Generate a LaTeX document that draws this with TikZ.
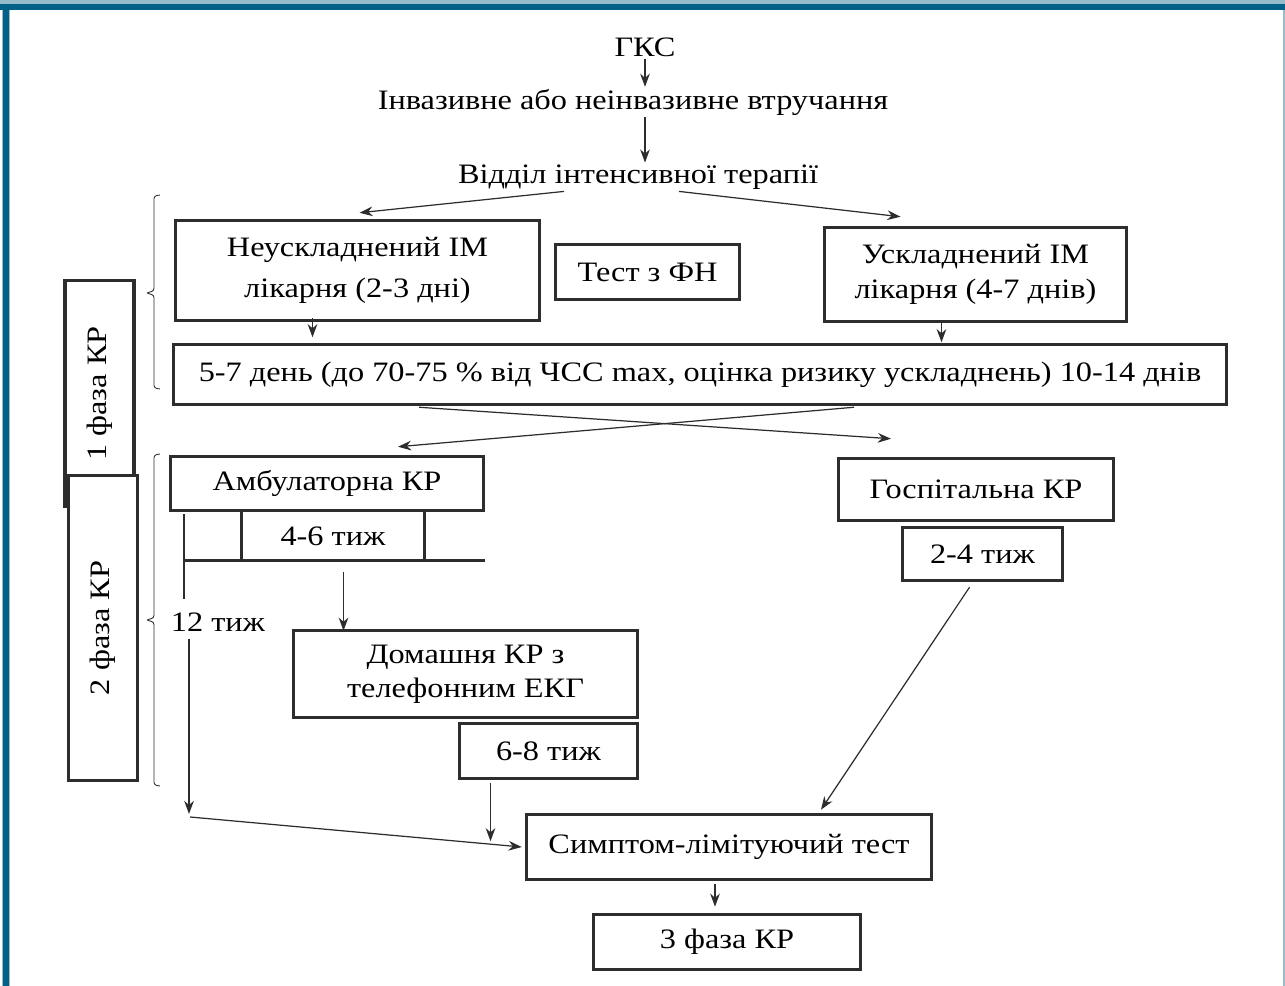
\documentclass[tikz,border=0pt]{standalone}
\usepackage{fontspec}
\setmainfont{Liberation Serif}[FakeStretch=1.15]
\usepackage{tikz}
\usetikzlibrary{arrows.meta,calc}
\definecolor{RamkaTeal}{RGB}{0,96,135}
\definecolor{RamkaSvit}{RGB}{150,188,202}
\definecolor{LiniyaSira}{RGB}{45,45,45}

\begin{document}
\begin{tikzpicture}[x=0.02cm,y=-0.02cm,>={Stealth[length=7.5pt,width=5.5pt]},
  font=\fontsize{16}{19.5}\selectfont,
  sz/.style 2 args={minimum width=#1*0.2mm,minimum height=#2*0.2mm},
  box/.style={draw=LiniyaSira,line width=2pt,fill=white,align=center,inner sep=2pt},
  txt/.style={inner sep=1pt,align=center},
  arr/.style={->,LiniyaSira,line width=0.7pt},
  duzhka/.style={LiniyaSira,line width=0.5pt,rounded corners=1.5pt}]

  \useasboundingbox (0,0) rectangle (1285,986);
  % рамка
  \fill[RamkaSvit] (0,0) rectangle (1285,4);
  \fill[RamkaTeal] (0,4) rectangle (1285,10);
  \fill[RamkaSvit] (2,10) rectangle (10,986);
  \fill[RamkaTeal] (3,4) rectangle (9,986);
  \fill[RamkaSvit] (1283,10) rectangle (1285,986);

  % верх
  \node[txt] (gks) at (645,47) {ГКС};
  \node[txt] (invaz) at (633,102) {Інвазивне або неінвазивне втручання};
  \node[txt] (vidd) at (638,177) {Відділ інтенсивної терапії};
  \draw[arr] (gks.south) -- (gks.south |- invaz.north);
  \draw[arr] (invaz.south -| gks.south) -- (vidd.north -| gks.south);

  % 1 фаза
  \node[box,sz={364}{100},font=\fontsize{16}{23}\selectfont] (neuskl) at (357.5,270.5)
    {Неускладнений ІМ\\лікарня (2-3 дні)};
  \node[box,sz={184}{55}] (test) at (647.5,272) {Тест з ФН};
  \node[box,sz={302}{94}] (uskl) at (975.5,274.5) {Ускладнений ІМ\\лікарня (4-7 днів)};
  \node[box,sz={1053}{60}] (day) at (700,374.5)
    {5-7 день (до 70-75 \% від ЧСС max, оцінка ризику ускладнень) 10-14 днів};
  \draw[arr] ($(vidd.south)+(-74,0)$) -- ($(neuskl.north)+(2,-6)$);
  \draw[arr] ($(vidd.south)+(41,0)$) -- ($(uskl.north)+(-75,-9)$);
  \draw[arr] ($(neuskl.south)+(-45,-4)$) -- ($(neuskl.south)+(-45,15)$);
  \draw[arr] ($(uskl.south)+(-34,0)$) -- ($(uskl.south)+(-34,19)$);

  % фази зліва
  \node[box,rotate=90,sz={226}{69}] (faza1) at (99.5,393.5) {1 фаза КР};
  \node[box,rotate=90,sz={305}{69}] (faza2) at (103,628) {2 фаза КР};
  \draw[duzhka] (160,195) -- (154,196) -- (154,291) -- (146,293) -- (154,295) -- (154,388) -- (160,389);
  \draw[duzhka] (160,454) -- (154,455) -- (154,618) -- (146,620) -- (154,622) -- (154,785) -- (160,786);

  % 2 фаза
  \node[box,sz={313}{54}] (ambul) at (327,483.5) {Амбулаторна КР};
  \node[box,sz={275}{62}] (hosp) at (976,489.5) {Госпітальна КР};
  \draw[arr] ($(day.south)+(-281,1)$) -- ($(hosp.north)+(-85,-18)$);
  \draw[arr] ($(day.south)+(154,1)$) -- ($(ambul.north)+(71,-8)$);

  \node[txt,sz={182}{48}] (t46) at (333,536) {4-6 тиж};
  \coordinate (l12) at (184,514);
  \draw[LiniyaSira,line width=2pt] (t46.north west) -- (t46.south west)
    (t46.north east) -- (t46.south east)
    (t46.south west -| l12) -- (t46.south west -| ambul.east);
  \node[txt] (t12) at (218,622) {12 тиж};
  \draw[LiniyaSira,line width=0.7pt,shorten >=2.4mm] (l12) -- (l12 |- t12.north);

  \node[box,sz={344}{87}] (dom) at (465.5,674) {Домашня КР з\\телефонним ЕКГ};
  \node[box,sz={178}{55}] (t68) at (548.5,751) {6-8 тиж};
  \node[box,sz={160}{53}] (t24) at (982.5,554) {2-4 тиж};
  \draw[arr] ($(dom.north)+(-122,-57)$) -- ($(dom.north)+(-122,2)$);

  % кінець
  \node[box,sz={405}{65}] (symp) at (729,847) {Симптом-лімітуючий тест};
  \node[box,sz={267}{55}] (faza3) at (727,942) {3 фаза КР};
  \coordinate (k12) at (189,814);
  \draw[arr] ($(t12.south -| k12)+(0,6)$) -- (k12);
  \draw[arr] ($(k12)+(1,3)$) -- ($(symp.west)+(-3,0)$);
  \draw[arr] ($(t68.south)+(-58,3)$) -- ($(t68.south)+(-58,61)$);
  \draw[arr] ($(t24.south)+(-13,5)$) -- ($(symp.north)+(92,-3)$);
  \draw[arr] ($(symp.south)+(-14,3)$) -- ($(faza3.north)+(-12,-6)$);
\end{tikzpicture}
\end{document}
